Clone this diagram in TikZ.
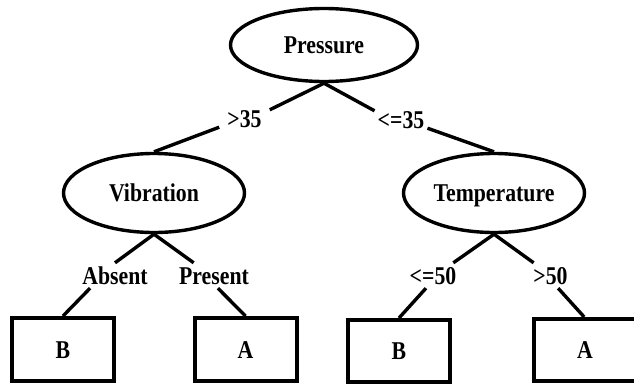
\documentclass[tikz,border=0pt]{standalone}
\usepackage{fontspec}
\setmainfont{Liberation Serif}[FakeStretch=0.85]
\usetikzlibrary{shapes.geometric}
\begin{document}
\begin{tikzpicture}[x=1pt,y=-1pt,
  every node/.style={font=\fontsize{25.6}{30}\selectfont\bfseries, text height=17pt, text depth=0pt},
  decision/.style={ellipse, draw, line width=3.4pt, inner sep=0pt},
  leaf/.style={rectangle, draw, line width=4pt, inner sep=0pt, minimum width=102pt},
  cond/.style={anchor=base, inner xsep=0pt, inner ysep=4pt},
  link/.style={line width=3.4pt}]
\useasboundingbox (0,0) rectangle (634,388);

% decision nodes
\node[decision, minimum width=187pt, minimum height=73pt] (pressure) at (324,45) {Pressure};
\node[decision, minimum width=181pt, minimum height=79pt] (vib) at (154,193) {Vibration};
\node[decision, minimum width=181pt, minimum height=79pt] (temp) at (494,193) {Temperature};

% leaves
\node[leaf, minimum height=63pt] (b1) at (63,349.5) {B};
\node[leaf, minimum height=63pt] (a1) at (245.5,349.5) {A};
\node[leaf, minimum height=62pt] (b2) at (399,351) {B};
\node[leaf, minimum height=62pt, minimum width=112pt] (a2) at (590,350) {};
\node (atext) at (585,349.5) {A};

% branch labels
\node[anchor=base, inner xsep=8pt, inner ysep=0pt] (gt35) at (244.5,127) {>35};
\node[anchor=base, inner xsep=3pt, inner ysep=0pt] (le35) at (401,128) {<=35};
\node[cond] (absent) at (115,284) {Absent};
\node[cond] (present) at (214,284) {Present};
\node[cond] (le50) at (433,284) {<=50};
\node[cond] (gt50) at (550.5,284) {>50};

% connectors
\draw[link] (pressure.south) -- (gt35.north east);
\draw[link] (gt35.south west) -- (vib.north);
\draw[link] (pressure.south) -- (le35.north west);
\draw[link] (le35.south east) -- (temp.north);

\draw[link] (vib.south) -- (absent.north);
\draw[link] (absent.207) -- (b1.north);
\draw[link] (vib.south) -- (present.148);
\draw[link] (present.287) -- (a1.north);

\draw[link] (temp.south) -- (le50.32);
\draw[link] (le50.241) -- (b2.north);
\draw[link] (temp.south) -- (gt50.143);
\draw[link] (gt50.301) -- (a2.100);
\end{tikzpicture}
\end{document}
